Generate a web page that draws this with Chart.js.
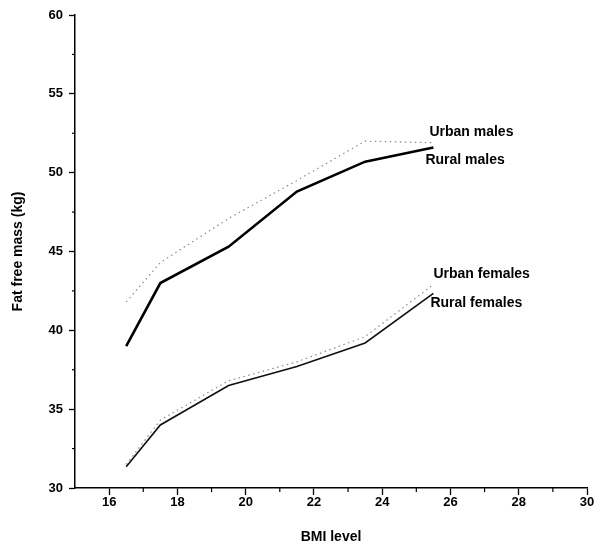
<!DOCTYPE html>
<html>
<head>
<meta charset="utf-8">
<script src="https://cdn.jsdelivr.net/npm/chart.js@4.4.0/dist/chart.umd.min.js"></script>
<style>
html,body{margin:0;padding:0;background:#fff;}
#wrap{width:595px;height:546px;position:relative;}
</style>
</head>
<body>
<div id="wrap"><canvas id="c" width="595" height="546"></canvas></div>
<script>
const bmiLevels = [16.5, 17.5, 19.5, 21.5, 23.5, 25.5];
const urbanMales = [41.8, 44.3, 47.1, 49.5, 52.0, 51.9];
const ruralMales = [39.0, 43.0, 45.3, 48.8, 50.7, 51.6];
const urbanFemales = [31.5, 34.3, 36.8, 38.0, 39.6, 42.9];
const ruralFemales = [31.35, 34.0, 36.5, 37.7, 39.2, 42.35];
const seriesNames = ['Urban males', 'Rural males', 'Urban females', 'Rural females'];
const xTickValues = [16, 18, 20, 22, 24, 26, 28, 30];
const yTickValues = [30, 35, 40, 45, 50, 55, 60];

const toPts = arr => arr.map((v, i) => ({x: bmiLevels[i], y: v}));
const FONT = '"Liberation Sans", Arial, sans-serif';

const labelOffsets = [
  {dx: -4, dy: -11},
  {dx: -8, dy: 13},
  {dx: 0, dy: -10},
  {dx: -3, dy: 10}
];

const extrasPlugin = {
  id: 'extras',
  afterDraw(chart) {
    const ctx = chart.ctx;
    const xs = chart.scales.x, ys = chart.scales.y;
    ctx.save();
    ctx.strokeStyle = '#000';
    ctx.lineWidth = 1.2;
    // minor ticks
    for (let v = 17; v < 30; v += 2) {
      const px = xs.getPixelForValue(v);
      ctx.beginPath(); ctx.moveTo(px, ys.bottom); ctx.lineTo(px, ys.bottom + 4); ctx.stroke();
    }
    for (let v = 32.5; v < 60; v += 5) {
      const py = ys.getPixelForValue(v);
      ctx.beginPath(); ctx.moveTo(xs.left, py); ctx.lineTo(xs.left - 3, py); ctx.stroke();
    }
    // series labels next to last points
    ctx.fillStyle = '#000';
    ctx.font = 'bold 14px ' + FONT;
    ctx.textAlign = 'left';
    ctx.textBaseline = 'middle';
    chart.data.datasets.forEach((ds, i) => {
      const last = ds.data[ds.data.length - 1];
      const px = xs.getPixelForValue(last.x) + labelOffsets[i].dx;
      const py = ys.getPixelForValue(last.y) + labelOffsets[i].dy;
      ctx.fillText(seriesNames[i], px, py);
    });
    ctx.restore();
  }
};

new Chart(document.getElementById('c'), {
  type: 'scatter',
  data: {
    datasets: [
      {label: seriesNames[0], data: toPts(urbanMales), showLine: true, borderColor: '#8a8a8a', borderWidth: 1.2, borderDash: [1.5, 3.5], pointRadius: 0, tension: 0},
      {label: seriesNames[1], data: toPts(ruralMales), showLine: true, borderColor: '#000', borderWidth: 2.6, pointRadius: 0, tension: 0},
      {label: seriesNames[2], data: toPts(urbanFemales), showLine: true, borderColor: '#8a8a8a', borderWidth: 1.2, borderDash: [1.5, 3.5], pointRadius: 0, tension: 0},
      {label: seriesNames[3], data: toPts(ruralFemales), showLine: true, borderColor: '#111', borderWidth: 1.6, pointRadius: 0, tension: 0}
    ]
  },
  options: {
    responsive: false,
    animation: false,
    layout: {padding: {top: 15, right: 8, left: 0, bottom: 0}},
    plugins: {legend: {display: false}, tooltip: {enabled: false}},
    scales: {
      x: {
        type: 'linear', min: 15, max: 30,
        afterBuildTicks: s => { s.ticks = xTickValues.map(v => ({value: v})); },
        afterFit: s => { s.height = 58; },
        grid: {drawOnChartArea: false, drawTicks: true, tickLength: 7, color: '#000', tickWidth: 1.3},
        border: {display: true, color: '#000', width: 1.5},
        ticks: {color: '#000', padding: 0, maxRotation: 0, font: {family: FONT, size: 13, weight: 'bold'}},
        title: {display: true, text: 'BMI level', color: '#000', padding: {top: 0, bottom: 0}, font: {family: FONT, size: 14, weight: 'bold'}}
      },
      y: {
        type: 'linear', min: 30, max: 60,
        afterBuildTicks: s => { s.ticks = yTickValues.map(v => ({value: v})); },
        afterFit: s => { s.width = 75; },
        grid: {drawOnChartArea: false, drawTicks: true, tickLength: 6, color: '#000', tickWidth: 1.3},
        border: {display: true, color: '#000', width: 1.5},
        ticks: {color: '#000', padding: 6, font: {family: FONT, size: 13, weight: 'bold'}},
        title: {display: true, text: 'Fat free mass (kg)', color: '#000', padding: {top: 10, bottom: 0}, font: {family: FONT, size: 14, weight: 'bold'}}
      }
    }
  },
  plugins: [extrasPlugin]
});
</script>
</body>
</html>
